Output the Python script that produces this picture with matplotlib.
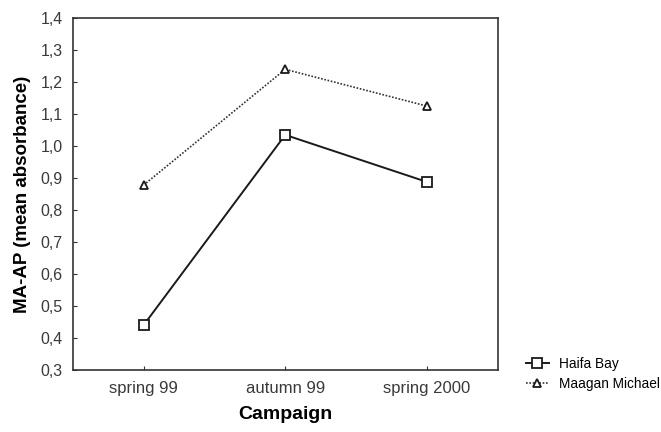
import matplotlib
matplotlib.use("Agg")
import matplotlib.pyplot as plt
from matplotlib.ticker import FuncFormatter

plt.rcParams["font.family"] = ["Liberation Sans", "DejaVu Sans"]

campaigns = ["spring 99", "autumn 99", "spring 2000"]
haifa_bay = [0.44, 1.035, 0.888]
maagan_michael = [0.878, 1.24, 1.125]

fig = plt.figure(figsize=(6.61, 4.32), dpi=100)
ax = fig.add_axes([0.110, 0.1435, 0.643, 0.8145])

x = range(len(campaigns))
h1, = ax.plot(x, haifa_bay, color="#1a1a1a", lw=1.4, marker="s", ms=7,
              mfc="white", mec="#1a1a1a", mew=1.3, label="Haifa Bay")
h2, = ax.plot(x, maagan_michael, color="#333333", lw=1.2, ls=(0, (1, 1)),
              marker="^", ms=6, mfc="white", mec="#1a1a1a", mew=1.3,
              label="Maagan Michael")

ax.set_xlim(-0.5, 2.5)
ax.set_ylim(0.3, 1.4)
ax.set_xticks(list(x))
ax.set_xticklabels(campaigns)
ax.set_yticks([0.3 + 0.1 * i for i in range(12)])
ax.yaxis.set_major_formatter(FuncFormatter(lambda v, p: f"{v:.1f}".replace(".", ",")))
ax.tick_params(direction="in", length=3, colors="#333333", labelcolor="#3a3a3a")
ax.tick_params(axis="y", labelsize=11.5, pad=7)
ax.tick_params(axis="x", labelsize=12, pad=8)
for s in ax.spines.values():
    s.set_color("#333333")
    s.set_linewidth(1.2)

ax.set_xlabel("Campaign", fontsize=14, fontweight="bold", labelpad=7)
ax.set_ylabel("MA-AP (mean absorbance)", fontsize=13.5, fontweight="bold", labelpad=7)

fig.legend(handles=[h1, h2], loc="center left", bbox_to_anchor=(0.777, 0.135),
           frameon=False, fontsize=9.8, handlelength=1.7, handletextpad=0.7,
           labelspacing=0.45)

fig.savefig("out.png", dpi=100)
